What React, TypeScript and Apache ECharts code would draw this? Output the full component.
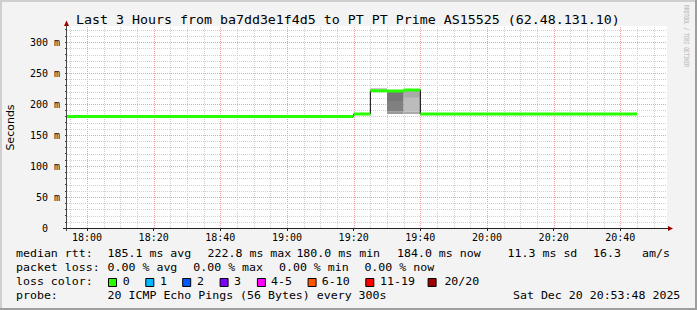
import React, { useEffect, useRef } from 'react';
import * as echarts from 'echarts';

// ---------- data ----------
const TITLE = 'Last 3 Hours from ba7dd3e1f4d5 to PT PT Prime AS15525 (62.48.131.10)';
const Y_NAME = 'Seconds';
const WATERMARK = 'RRDTOOL / TOBI OETIKER';
const X_START = '17:54';
const X_END = '20:54';
const Y_MAX = 326;
const xTickLabels = ['18:00', '18:20', '18:40', '19:00', '19:20', '19:40', '20:00', '20:20', '20:40'];
const yTickValues = [0, 50, 100, 150, 200, 250, 300];

// median rtt (ms) per step segment
const segStart = ['17:54', '19:20', '19:25', '19:30', '19:35', '19:40'];
const segEnd = ['19:20', '19:25', '19:30', '19:35', '19:40', '20:45'];
const segMedian = [180.0, 184.0, 221.5, 221.0, 222.8, 184.0];

// smoke bands (ms)
const smokeStart = ['19:25', '19:30', '19:30', '19:30', '19:35', '19:35', '19:35'];
const smokeEnd = ['19:30', '19:35', '19:35', '19:35', '19:40', '19:40', '19:40'];
const smokeLow = [221, 184, 188, 205, 184, 188, 210];
const smokeHigh = [226, 188, 205, 220, 188, 210, 222];
const smokeShade = [0, 2, 3, 4, 1, 5, 1];

const statLabels = ['median rtt:', 'packet loss:', 'loss color:', 'probe:'];
const rttStats = ['185.1 ms avg', '222.8 ms max', '180.0 ms min', '184.0 ms now', '11.3 ms sd', '16.3', 'am/s'];
const lossStats = ['0.00 % avg', '0.00 % max', '0.00 % min', '0.00 % now'];
const lossColorLabels = ['0', '1', '2', '3', '4-5', '6-10', '11-19', '20/20'];
const probeText = '20 ICMP Echo Pings (56 Bytes) every 300s';
const stampText = 'Sat Dec 20 20:53:48 2025';

// ---------- styles / layout ----------
const lossColors = ['#26ff00', '#00b8ff', '#0059ff', '#7e00ff', '#ff00ff', '#ff5500', '#ff0000', '#a10000'];
const SHADES = ['#cccccc', '#aaaaaa', '#999999', '#808080', '#777777', '#bbbbbb'];
const rttX = [107.6, 207.6, 296.4, 397, 507.6, 593, 642];
const lossX = [107.6, 193.3, 279, 364.4];
const boxX = [108, 145.3, 182.2, 219.6, 256.9, 307.6, 365.3, 427.6];
const boxLabelX = [122.7, 160, 197, 234, 271, 321.8, 380, 444.4];
const rowY = [254, 268, 282, 296];
const MONO = '"DejaVu Sans Mono", monospace';
const GRID_MINOR = '#cfcfcf';
const GRID_MAJOR = '#f0a0a0';
const ARROW = '#990000';

const toMin = (s: string) => {
  const [h, m] = s.split(':').map(Number);
  return h * 60 + m;
};
const fmt = (v: number) => `${Math.floor(v / 60)}:${String(v % 60).padStart(2, '0')}`;

export default function App() {
  const ref = useRef<HTMLDivElement>(null);
  useEffect(() => {
    if (!ref.current) return;
    const chart = echarts.init(ref.current, null, { renderer: 'svg' });
    const xMin = toMin(X_START);
    const xMax = toMin(X_END);
    const xTickValues = xTickLabels.map(toMin);

    const vGrid: number[][] = [];
    for (let v = xMin + 1; v < xMax; v++) {
      if (v % 5 === 0) vGrid.push([v, 0, v % 20 === 0 ? 1 : 0]);
    }
    const hGrid: number[][] = [];
    for (let v = 10; v <= Y_MAX; v += 10) hGrid.push([xMin, v, v % 50 === 0 ? 1 : 0]);
    const yTicks: number[] = [];
    for (let v = 0; v <= Y_MAX; v += 10) yTicks.push(v);

    const blackData: (number | null)[][] = [];
    const greenData: (number | null)[][] = [];
    segStart.forEach((s, i) => {
      const a = toMin(s);
      const b = toMin(segEnd[i]);
      blackData.push([a, segMedian[i]], [b, segMedian[i]]);
      greenData.push([a, segMedian[i]], [b, segMedian[i]], [b, null]);
    });
    const smokeData = smokeStart.map((s, i) => [toMin(s), toMin(smokeEnd[i]), smokeLow[i], smokeHigh[i], smokeShade[i]]);

    const txt = (text: string, x: number, y: number, o: any = {}) => ({
      type: 'text',
      x,
      y,
      silent: true,
      scaleX: o.scaleX ?? 1,
      rotation: o.rotation ?? 0,
      z: 100,
      style: {
        text,
        font: o.font ?? `10px ${MONO}`,
        fill: o.fill ?? '#000',
        align: o.align ?? 'left',
        textAlign: o.align ?? 'left',
        verticalAlign: 'middle',
        textVerticalAlign: 'middle',
      },
    });

    const graphics: any[] = [
      // frame
      { type: 'rect', shape: { x: 0, y: 0, width: 697, height: 2 }, style: { fill: '#cfcfcf' }, silent: true },
      { type: 'rect', shape: { x: 0, y: 0, width: 2, height: 310 }, style: { fill: '#cfcfcf' }, silent: true },
      { type: 'rect', shape: { x: 695, y: 0, width: 2, height: 310 }, style: { fill: '#9e9e9e' }, silent: true },
      { type: 'rect', shape: { x: 0, y: 308, width: 697, height: 2 }, style: { fill: '#9e9e9e' }, silent: true },
      // axes
      { type: 'line', shape: { x1: 63, y1: 228.5, x2: 669, y2: 228.5 }, style: { stroke: '#222', lineWidth: 1 }, z: 50, silent: true },
      { type: 'line', shape: { x1: 66.5, y1: 231, x2: 66.5, y2: 23 }, style: { stroke: '#444', lineWidth: 1 }, z: 50, silent: true },
      { type: 'polygon', shape: { points: [[673, 228.5], [668, 226], [668, 231]] }, style: { fill: ARROW }, z: 51, silent: true },
      { type: 'polygon', shape: { points: [[66.5, 20.5], [64, 26], [69, 26]] }, style: { fill: ARROW }, z: 51, silent: true },
      // title etc
      txt(TITLE, 76, 19.6, { font: `12.3px ${MONO}`, scaleX: 1.08 }),
      txt(Y_NAME, 10, 127.5, { font: '11px "DejaVu Sans", sans-serif', rotation: Math.PI / 2, align: 'center' }),
      txt(WATERMARK, 686.5, 36, { font: `7px ${MONO}`, rotation: -Math.PI / 2, align: 'center', scaleX: 0.67, fill: '#b4b4b4' }),
    ];
    const L = { scaleX: 1.16 };
    statLabels.forEach((s, i) => graphics.push(txt(s, 16, rowY[i], L)));
    rttStats.forEach((s, i) => graphics.push(txt(s, rttX[i], rowY[0], L)));
    lossStats.forEach((s, i) => graphics.push(txt(s, lossX[i], rowY[1], L)));
    lossColorLabels.forEach((s, i) => {
      graphics.push({
        type: 'rect',
        shape: { x: boxX[i] + 0.5, y: 278.5, width: 8, height: 8 },
        style: { fill: lossColors[i], stroke: '#000', lineWidth: 1 },
        silent: true,
        z: 100,
      });
      graphics.push(txt(s, boxLabelX[i], rowY[2], L));
    });
    graphics.push(txt(probeText, 107.6, rowY[3], L));
    graphics.push(txt(stampText, 513, rowY[3], L));

    const gridLine = (vertical: boolean) => (params: any, api: any) => {
      const v = api.value(vertical ? 0 : 1);
      const major = api.value(2);
      const style = { stroke: major ? GRID_MAJOR : GRID_MINOR, lineWidth: 1, lineDash: [1, 1] };
      if (vertical) {
        const p0 = api.coord([v, 0]);
        const p1 = api.coord([v, Y_MAX]);
        const x = Math.round(p0[0]) + 0.5;
        return { type: 'line', shape: { x1: x, y1: p0[1], x2: x, y2: p1[1] }, style };
      }
      const p0 = api.coord([xMin, v]);
      const p1 = api.coord([xMax, v]);
      const y = Math.round(p0[1]) + 0.5;
      return { type: 'line', shape: { x1: p0[0], y1: y, x2: p1[0], y2: y }, style };
    };

    chart.setOption({
      animation: false,
      backgroundColor: '#f3f3f3',
      grid: { left: 67, right: 30, top: 26, bottom: 82, show: true, backgroundColor: '#ffffff', borderWidth: 0, containLabel: false, outerBoundsMode: 'none' },
      xAxis: {
        type: 'value',
        min: xMin,
        max: xMax,
        axisLine: { show: false },
        splitLine: { show: false },
        axisTick: { show: true, customValues: xTickValues, length: 3, lineStyle: { color: '#222' } },
        axisLabel: {
          customValues: xTickValues,
          formatter: (v: number) => fmt(v),
          fontFamily: MONO,
          fontSize: 10,
          color: '#000',
          margin: 4,
        },
      },
      yAxis: {
        type: 'value',
        min: 0,
        max: Y_MAX,
        axisLine: { show: false },
        splitLine: { show: false },
        axisTick: { show: true, customValues: yTicks, length: 2, lineStyle: { color: '#444' } },
        axisLabel: {
          customValues: yTickValues,
          formatter: (v: number) => (v === 0 ? '0\u00a0\u00a0' : `${v} m`),
          fontFamily: MONO,
          fontSize: 10,
          color: '#000',
          margin: 7,
        },
      },
      graphic: { elements: graphics },
      series: [
        { type: 'custom', z: 1, silent: true, data: vGrid, encode: { x: 0, y: 1 }, renderItem: gridLine(true) },
        { type: 'custom', z: 1, silent: true, data: hGrid, encode: { x: 0, y: 1 }, renderItem: gridLine(false) },
        {
          type: 'custom',
          z: 2,
          silent: true,
          data: smokeData,
          encode: { x: [0, 1], y: [2, 3] },
          renderItem: (params: any, api: any) => {
            const a = api.coord([api.value(0), api.value(3)]);
            const b = api.coord([api.value(1), api.value(2)]);
            return {
              type: 'rect',
              shape: { x: a[0], y: a[1], width: b[0] - a[0], height: b[1] - a[1] },
              style: { fill: SHADES[api.value(4)] },
            };
          },
        },
        { type: 'line', z: 3, silent: true, data: blackData, symbol: 'none', showSymbol: false, lineStyle: { color: '#000', width: 1 } },
        { type: 'line', z: 4, silent: true, data: greenData, symbol: 'none', showSymbol: false, connectNulls: false, lineStyle: { color: lossColors[0], width: 3 } },
      ],
    });
    return () => chart.dispose();
  }, []);
  return <div ref={ref} style={{ position: 'absolute', left: 0, top: 0, width: 697, height: 310 }} />;
}
